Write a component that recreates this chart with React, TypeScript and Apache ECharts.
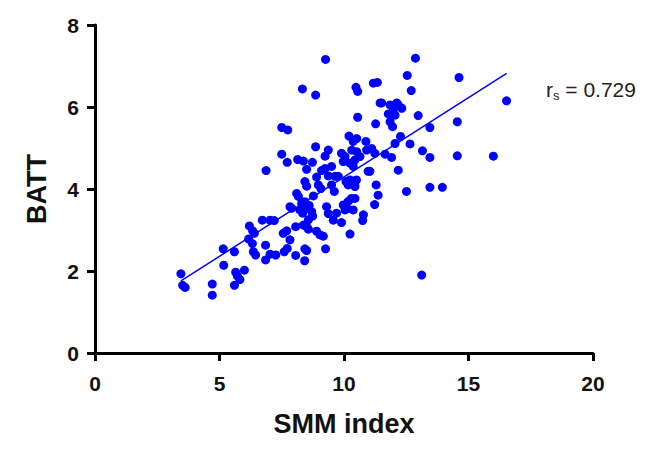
import React, { useEffect, useRef } from "react";
import * as echarts from "echarts";

const smmIndex = [
  3.45, 3.52, 3.62, 4.71, 4.71, 5.15, 5.17, 5.6, 5.6, 5.65, 5.72, 5.82, 6.0, 6.2, 6.33, 6.4, 6.17, 6.32, 6.36, 6.45,
  6.72, 6.85, 6.85, 7.03, 7.2, 7.03, 7.26, 7.56, 7.7, 7.6, 7.72, 7.83, 7.83, 7.9, 8.06, 8.06, 8.1, 8.17, 8.23, 8.34,
  8.43, 8.42, 8.37, 8.5, 8.57, 8.43, 8.5, 8.7, 8.74, 8.9, 9.04, 9.17, 9.26, 8.77, 8.97, 9.07, 9.3, 9.37, 9.5, 9.61,
  9.57, 9.7, 9.9, 9.97, 10.04, 10.24, 10.37, 10.44, 10.17, 10.3, 10.13, 9.77, 10.08, 10.17, 10.24, 10.78, 10.75,
  8.3, 8.43, 8.57, 8.45, 8.6, 8.9, 8.5,
  9.26, 8.33, 8.86, 10.48, 10.55, 11.18, 11.34, 11.45, 10.55, 11.27, 7.5, 7.74,
  10.2, 10.51, 10.37, 10.88, 8.86, 9.37, 9.24, 7.5, 7.72, 8.14, 8.37, 8.73,
  9.9, 10.04, 9.97, 10.31, 10.51, 10.64, 10.44, 10.24, 10.37, 10.91, 11.11, 11.24,
  9.24, 9.1, 9.5, 8.5, 6.87, 10.97, 9.37, 9.64, 10.5, 10.44,
  12.87, 12.54, 14.62, 12.7, 11.51, 12.12, 11.85, 12.18, 12.32, 11.98, 11.78, 12.05, 11.85, 11.95,
  12.98, 13.45, 14.55, 12.27, 12.05, 12.65, 13.15, 13.45, 11.65, 11.91, 14.55, 12.18,
  11.04, 11.29, 11.37, 11.23, 12.51, 13.45, 13.95, 13.12, 16.53, 16.0,
];

const batt = [
  1.93, 1.65, 1.6, 1.68, 1.41, 2.54, 2.14, 2.47, 1.65, 1.97, 1.88, 1.79, 2.02, 3.1, 2.98, 2.92, 2.78, 2.67, 2.47, 2.39,
  3.24, 2.63, 2.27, 3.24, 3.23, 2.41, 2.39, 2.92, 2.98, 2.47, 2.55, 2.76, 3.57, 3.53, 3.08, 2.38, 3.89, 3.82, 3.49, 3.41,
  2.54, 2.25, 3.12, 3.08, 3.02, 4.18, 4.07, 3.45, 3.34, 2.97, 2.88, 2.85, 2.54, 3.83, 4.1, 4.01, 3.57, 3.4, 4.1, 3.94,
  3.24, 3.41, 3.18, 3.61, 3.49, 2.9, 3.49, 3.77, 3.7, 3.77, 3.52, 4.31, 4.18, 4.1, 4.22, 3.37, 3.23,
  3.65, 3.69, 3.25, 3.55, 3.6, 4.29, 2.5,
  7.16, 6.44, 6.29, 6.48, 6.38, 6.58, 6.6, 6.1, 5.75, 5.59, 5.5, 5.44,
  5.29, 5.23, 5.16, 5.16, 5.03, 4.95, 4.8, 4.85, 4.65, 4.72, 4.68, 4.65,
  4.87, 4.79, 4.67, 4.95, 4.91, 4.79, 4.71, 4.63, 4.55, 4.95, 4.99, 4.87,
  4.5, 4.45, 4.55, 4.48, 4.45, 4.43, 4.32, 4.31, 4.22, 4.06,
  7.19, 6.77, 6.72, 6.4, 6.1, 6.1, 6.05, 6.05, 5.97, 5.93, 5.83, 5.8, 5.64, 5.52,
  5.79, 5.5, 5.64, 5.28, 5.11, 5.1, 4.93, 4.77, 4.85, 4.77, 4.81, 4.46,
  4.43, 4.1, 3.85, 3.62, 3.94, 4.04, 4.04, 1.9, 6.15, 4.8,
];

const xTicks = { min: 0, max: 20, interval: 5 };
const yTicks = { min: 0, max: 8, interval: 2 };
const xName = "SMM index";
const yName = "BATT";
const rsLabel = "0.729";

const FONT = "'Liberation Sans', Arial, Helvetica, sans-serif";

function fitLine(xs: number[], ys: number[]) {
  const n = xs.length;
  let sx = 0, sy = 0, sxx = 0, sxy = 0;
  for (let i = 0; i < n; i++) {
    sx += xs[i]; sy += ys[i]; sxx += xs[i] * xs[i]; sxy += xs[i] * ys[i];
  }
  const slope = (n * sxy - sx * sy) / (n * sxx - sx * sx);
  const intercept = (sy - slope * sx) / n;
  const x0 = Math.min(...xs);
  const x1 = Math.max(...xs);
  return [[x0, intercept + slope * x0], [x1, intercept + slope * x1]];
}

export default function App() {
  const ref = useRef<HTMLDivElement>(null);
  useEffect(() => {
    document.body.style.margin = "0";
    const chart = echarts.init(ref.current!, null, { renderer: "svg" });
    const pts = smmIndex.map((x, i) => [x, batt[i]]);
    const line = fitLine(smmIndex, batt);
    const axisCommon = {
      axisLine: { show: true, onZero: false, lineStyle: { color: "#000", width: 3 } },
      axisTick: { show: true, length: 8, lineStyle: { color: "#000", width: 3 } },
      splitLine: { show: false },
      nameLocation: "middle" as const,
      nameTextStyle: { color: "#111", fontWeight: "bold", fontSize: 27, fontFamily: FONT },
    };
    chart.setOption({
      animation: false,
      backgroundColor: "#fff",
      grid: { left: 95, right: 56, top: 25, bottom: 96, containLabel: false },
      xAxis: {
        type: "value",
        ...xTicks,
        name: xName,
        nameGap: 57,
        ...axisCommon,
        axisLabel: { color: "#111", fontWeight: "bold", fontSize: 21, fontFamily: FONT, margin: 20 },
      },
      yAxis: {
        type: "value",
        ...yTicks,
        name: yName,
        nameGap: 45,
        ...axisCommon,
        axisLabel: { color: "#111", fontWeight: "bold", fontSize: 21, fontFamily: FONT, margin: 16 },
      },
      series: [
        {
          type: "scatter",
          data: pts,
          symbolSize: 9,
          itemStyle: { color: "#0000ff", opacity: 1 },
          z: 3,
        },
        {
          type: "line",
          data: line,
          symbol: "none",
          lineStyle: { color: "#0000ff", width: 1.5 },
          z: 2,
        },
      ],
      graphic: [
        {
          type: "text",
          left: 546,
          top: 79,
          style: {
            text: "{a|r}{s|s}{a| = " + rsLabel + "}",
            rich: {
              a: { fontSize: 21, fontFamily: FONT, fill: "#222", lineHeight: 24, verticalAlign: "middle" },
              s: { fontSize: 13, fontFamily: FONT, fill: "#222", lineHeight: 13, verticalAlign: "bottom" },
            },
          },
        },
      ],
    });
    return () => chart.dispose();
  }, []);
  return <div ref={ref} style={{ width: 649, height: 449 }} />;
}
